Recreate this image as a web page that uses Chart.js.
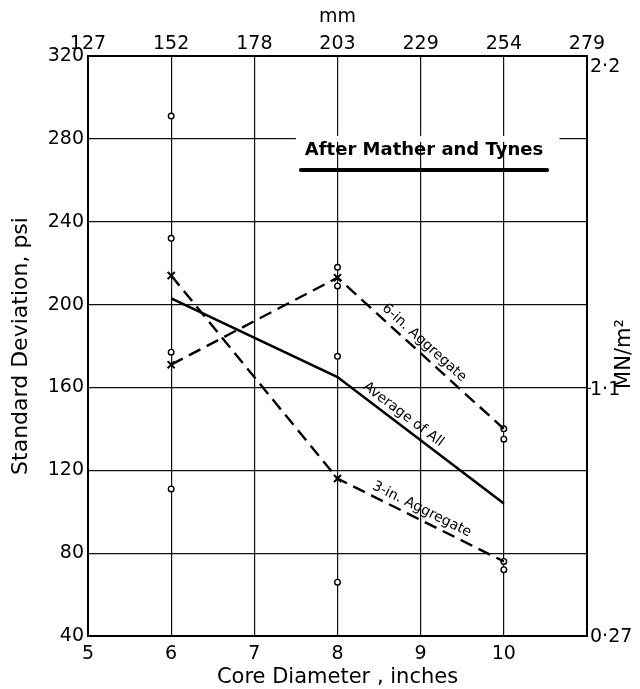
<!DOCTYPE html>
<html lang="en">
<head>
    <meta charset="UTF-8">
    <title>Core diameter vs standard deviation</title>
    <style>
        html, body { margin: 0; padding: 0; background: #fff; }
        canvas { display: block; }
    </style>
    <script src="https://cdn.jsdelivr.net/npm/chart.js"></script>
</head>
<body>
    <canvas id="chart" width="640" height="689"></canvas>

    <script>
        // values (psi, core diameter in inches)
        const inches = [6, 8, 10];
        const averageAll = [203, 165, 104];
        const sixInAgg = [171, 213, 140];
        const threeInAgg = [214, 116, 76];
        const testX = [6, 6, 6, 6, 8, 8, 8, 8, 10, 10, 10, 10];
        const testY = [291, 232, 177, 111, 218, 209, 175, 66, 140, 135, 76, 72];

        const inchTicks = [5, 6, 7, 8, 9, 10, 11];
        const mmLabels = ['127', '152', '178', '203', '229', '254', '279'];
        const mnTicks = [0.27, 1.1, 2.2];
        const mnLabels = ['0\u00b727', '1\u00b71', '2\u00b72'];

        const lineLabels = [
            { text: '6-in. Aggregate', values: sixInAgg, at: 0.48 },
            { text: 'Average of All', values: averageAll, at: 0.36 },
            { text: '3-in. Aggregate', values: threeInAgg, at: 0.48 }
        ];
        const sourceNote = 'After Mather and Tynes';

        const FONT = 'DejaVu Sans';
        const PSI_TO_MN = 0.006895;

        const tickFont = { family: FONT, size: 19 };

        const labelsPlugin = {
            id: 'labels',
            beforeDatasetsDraw(chart) {
                const ctx = chart.ctx;
                const xs = chart.scales.x, ys = chart.scales.y;
                // note box: clears the 280 grid line behind the text
                ctx.save();
                ctx.fillStyle = '#fff';
                ctx.fillRect(xs.getPixelForValue(7.5), ys.getPixelForValue(280) - 3,
                    xs.getPixelForValue(10.67) - xs.getPixelForValue(7.5), 6);
                ctx.fillStyle = '#000';
                ctx.font = 'bold 18px ' + FONT;
                ctx.textAlign = 'center';
                ctx.textBaseline = 'middle';
                ctx.fillText(sourceNote, xs.getPixelForValue(9.04), ys.getPixelForValue(274.5));
                ctx.strokeStyle = '#000';
                ctx.lineWidth = 4;
                ctx.lineCap = 'round';
                ctx.beginPath();
                ctx.moveTo(xs.getPixelForValue(7.56), ys.getPixelForValue(265));
                ctx.lineTo(xs.getPixelForValue(10.52), ys.getPixelForValue(265));
                ctx.stroke();
                ctx.restore();
            },
            afterDraw(chart) {
                const ctx = chart.ctx;
                const xs = chart.scales.x, ys = chart.scales.y, y2 = chart.scales.y2;
                ctx.save();
                ctx.fillStyle = '#000';
                ctx.font = '14px ' + FONT;
                ctx.textAlign = 'center';
                ctx.textBaseline = 'middle';
                lineLabels.forEach(l => {
                    const x1 = xs.getPixelForValue(inches[1]), y1 = ys.getPixelForValue(l.values[1]);
                    const x2 = xs.getPixelForValue(inches[2]), y2p = ys.getPixelForValue(l.values[2]);
                    const ang = Math.atan2(y2p - y1, x2 - x1);
                    ctx.save();
                    ctx.translate(x1 + (x2 - x1) * l.at, y1 + (y2p - y1) * l.at);
                    ctx.rotate(ang);
                    ctx.fillText(l.text, 0, -10);
                    ctx.restore();
                });

                // right axis (MN/m2)
                ctx.font = '19px ' + FONT;
                ctx.textAlign = 'left';
                const right = chart.chartArea.right;
                mnTicks.forEach((v, i) => {
                    const py = y2.getPixelForValue(v);
                    let ty = py;
                    if (i === mnTicks.length - 1) ty = py + 9;
                    if (i === 0) ty = py - 1;
                    if (i === 1) ty = py + 2;
                    ctx.fillText(mnLabels[i], right + 3, ty);
                });
                ctx.lineWidth = 1;
                ctx.strokeStyle = '#000';
                ctx.beginPath();
                ctx.moveTo(right, y2.getPixelForValue(mnTicks[1]));
                ctx.lineTo(right + 4, y2.getPixelForValue(mnTicks[1]));
                ctx.stroke();

                ctx.font = '21px ' + FONT;
                ctx.translate(625, (chart.chartArea.top + chart.chartArea.bottom) / 2 + 8);
                ctx.rotate(-Math.PI / 2);
                ctx.textAlign = 'center';
                ctx.textBaseline = 'middle';
                ctx.fillText('MN/m\u00b2', 0, 0);
                ctx.restore();
            }
        };

        const ctx = document.getElementById('chart').getContext('2d');
        new Chart(ctx, {
            type: 'scatter',
            data: {
                datasets: [
                    {
                        label: 'Average of All',
                        data: inches.map((x, i) => ({ x: x, y: averageAll[i] })),
                        showLine: true,
                        borderColor: '#000',
                        borderWidth: 2.6,
                        pointRadius: 0
                    },
                    {
                        label: '6-in. Aggregate',
                        data: inches.map((x, i) => ({ x: x, y: sixInAgg[i] })),
                        showLine: true,
                        borderColor: '#000',
                        borderWidth: 2.4,
                        borderDash: [13, 7],
                        pointStyle: 'crossRot',
                        pointRadius: [5, 5, 0],
                        pointBorderWidth: 2,
                        pointBorderColor: '#000'
                    },
                    {
                        label: '3-in. Aggregate',
                        data: inches.map((x, i) => ({ x: x, y: threeInAgg[i] })),
                        showLine: true,
                        borderColor: '#000',
                        borderWidth: 2.4,
                        borderDash: [13, 7],
                        pointStyle: 'crossRot',
                        pointRadius: [5, 5, 0],
                        pointBorderWidth: 2,
                        pointBorderColor: '#000'
                    },
                    {
                        label: 'Tests',
                        data: testX.map((x, i) => ({ x: x, y: testY[i] })),
                        showLine: false,
                        pointStyle: 'circle',
                        pointRadius: 2.8,
                        pointBorderWidth: 1.4,
                        pointBorderColor: '#000',
                        pointBackgroundColor: '#fff'
                    }
                ]
            },
            options: {
                responsive: false,
                animation: false,
                layout: { padding: 0 },
                plugins: {
                    legend: { display: false },
                    tooltip: { enabled: false }
                },
                scales: {
                    x: {
                        type: 'linear',
                        position: 'bottom',
                        min: 5,
                        max: 11,
                        afterBuildTicks: s => { s.ticks = inchTicks.map(v => ({ value: v })); },
                        afterFit: s => { s.height = 53; },
                        ticks: {
                            callback: v => (v === 11 ? '' : v),
                            font: tickFont,
                            color: '#000',
                            padding: 7,
                            maxRotation: 0,
                            autoSkip: false
                        },
                        grid: { color: '#111', lineWidth: 1.2, drawTicks: false },
                        border: { color: '#000', width: 2 },
                        title: {
                            display: true,
                            text: 'Core Diameter , inches',
                            font: { family: FONT, size: 21 },
                            color: '#000',
                            padding: { top: 0, bottom: -1 }
                        }
                    },
                    x2: {
                        type: 'linear',
                        position: 'top',
                        min: 5,
                        max: 11,
                        afterBuildTicks: s => { s.ticks = inchTicks.map(v => ({ value: v })); },
                        afterFit: s => { s.height = 56; },
                        ticks: {
                            callback: (v, i) => mmLabels[i],
                            font: tickFont,
                            color: '#000',
                            padding: 1,
                            maxRotation: 0,
                            autoSkip: false
                        },
                        grid: { drawOnChartArea: false, drawTicks: false },
                        border: { color: '#000', width: 2 },
                        title: {
                            display: true,
                            text: 'mm',
                            font: { family: FONT, size: 19 },
                            color: '#000',
                            padding: { top: 6, bottom: 0 }
                        }
                    },
                    y: {
                        type: 'linear',
                        position: 'left',
                        min: 40,
                        max: 320,
                        afterFit: s => { s.width = 88; },
                        ticks: {
                            stepSize: 40,
                            font: tickFont,
                            color: '#000',
                            padding: 4
                        },
                        grid: { color: '#111', lineWidth: 1.2, drawTicks: false },
                        border: { color: '#000', width: 2 },
                        title: {
                            display: true,
                            text: 'Standard Deviation, psi',
                            font: { family: FONT, size: 22 },
                            color: '#000',
                            padding: { top: 8, bottom: 0 }
                        }
                    },
                    y2: {
                        type: 'linear',
                        position: 'right',
                        min: 40 * PSI_TO_MN,
                        max: 320 * PSI_TO_MN,
                        afterFit: s => { s.width = 53; },
                        ticks: { display: false },
                        grid: { drawOnChartArea: false, drawTicks: false },
                        border: { color: '#000', width: 2 }
                    }
                }
            },
            plugins: [labelsPlugin]
        });
    </script>
</body>
</html>
